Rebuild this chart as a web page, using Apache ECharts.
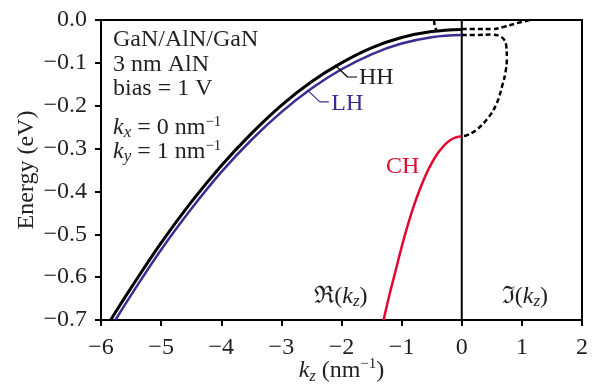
<!DOCTYPE html>
<html><head><meta charset="utf-8">
<script src="https://cdn.jsdelivr.net/npm/echarts@6/dist/echarts.min.js"></script>
<style>html,body{margin:0;padding:0;background:#fff}#c{width:609px;height:386px}</style>
</head><body><div id="c"></div>
<script>
// ---- data ----
const xMin = -6, xMax = 2, xStep = 1;
const yMin = -0.7, yMax = 0, yStep = 0.1;

// HH band (real kz)
const hhK = [-5.84, -5.5, -5.0, -4.5, -4.0, -3.5, -3.0, -2.5, -2.0, -1.5, -1.0, -0.5, 0];
const hhE = [-0.700, -0.625, -0.520, -0.425, -0.340, -0.265, -0.199, -0.144, -0.100, -0.065, -0.041, -0.027, -0.022];
// LH band (real kz)
const lhK = [-5.76, -5.5, -5.0, -4.5, -4.0, -3.5, -3.0, -2.5, -2.0, -1.5, -1.0, -0.5, 0];
const lhE = [-0.700, -0.642, -0.536, -0.441, -0.355, -0.280, -0.215, -0.160, -0.115, -0.080, -0.055, -0.040, -0.035];
// CH band (real kz)
const chK = [-1.30, -1.2, -1.1, -1.0, -0.9, -0.8, -0.7, -0.6, -0.5, -0.4, -0.3, -0.2, -0.1, 0];
const chE = [-0.700, -0.640, -0.585, -0.530, -0.480, -0.435, -0.396, -0.362, -0.334, -0.311, -0.294, -0.281, -0.274, -0.271];
// imaginary kz branches (dashed)
const imHhK = [0, 0.25, 0.5, 0.7, 0.9, 1.13];
const imHhE = [-0.021, -0.021, -0.021, -0.016, -0.008, 0.0];
const imLoopK = [0, 0.25, 0.5, 0.62, 0.70, 0.74, 0.75, 0.73, 0.68, 0.58, 0.44, 0.24, 0.08, 0];
const imLoopE = [-0.035, -0.035, -0.034, -0.037, -0.045, -0.060, -0.090, -0.120, -0.150, -0.195, -0.228, -0.257, -0.269, -0.271];
const sideK = [-0.46, -0.45, -0.42];
const sideE = [0.0, -0.012, -0.024];

const zip = (a, b) => a.map((v, i) => [v, b[i]]);

const FONT = "'Liberation Serif','Times New Roman',serif";
const TXT = '#231f20';
const BLUE = '#3d2b92';
const RED = '#e3062f';

const chart = echarts.init(document.getElementById('c'), null, {renderer: 'canvas'});

const fmtY = v => Math.abs(v) < 1e-9 ? '0.0' : '\u2212' + Math.abs(v).toFixed(1);
const fmtX = v => v < 0 ? '\u2212' + Math.abs(Math.round(v)) : String(Math.round(v));

const option = {
  animation: false,
  grid: {left: 101, right: 27, top: 20, bottom: 66, show: true, borderColor: '#000', borderWidth: 2,
         containLabel: false, outerBoundsMode: 'none'},
  xAxis: {
    type: 'value', min: xMin, max: xMax, interval: xStep,
    axisLine: {onZero: false, lineStyle: {color: '#000', width: 2}},
    axisTick: {length: 6, lineStyle: {color: '#000', width: 2}},
    axisLabel: {fontFamily: FONT, fontSize: 24, color: TXT, margin: 16, formatter: fmtX},
    splitLine: {show: false},
    name: '{i|k}{sub|z}{n| (nm}{sup|\u22121}{n|)}',
    nameLocation: 'middle', nameGap: 37, nameMoveOverlap: false,
    nameTextStyle: {
      fontFamily: FONT, fontSize: 24, color: TXT,
      rich: {
        i: {fontFamily: FONT, fontSize: 24, fontStyle: 'italic', color: TXT, lineHeight: 28},
        n: {fontFamily: FONT, fontSize: 24, color: TXT, lineHeight: 28},
        sub: {fontFamily: FONT, fontSize: 16, fontStyle: 'italic', color: TXT, lineHeight: 14, verticalAlign: 'bottom'},
        sup: {fontFamily: FONT, fontSize: 15, color: TXT, lineHeight: 15, verticalAlign: 'top'}
      }
    }
  },
  yAxis: {
    type: 'value', min: yMin, max: yMax, interval: yStep,
    axisLine: {onZero: false, lineStyle: {color: '#000', width: 2}},
    axisTick: {length: 6, lineStyle: {color: '#000', width: 2}},
    axisLabel: {fontFamily: FONT, fontSize: 24, color: TXT, margin: 14, formatter: fmtY},
    splitLine: {show: false},
    name: 'Energy (eV)', nameLocation: 'middle', nameGap: 62, nameMoveOverlap: false,
    nameTextStyle: {fontFamily: FONT, fontSize: 24, color: TXT}
  },
  series: [
    {type: 'line', data: [[0, yMin], [0, yMax]], symbol: 'none', silent: true,
     lineStyle: {color: '#000', width: 2}, z: 1},
    {type: 'line', name: 'imHH', data: zip(imHhK, imHhE), symbol: 'none', smooth: 0.4,
     lineStyle: {color: '#000', width: 2.5, type: [5, 3]}, z: 2},
    {type: 'line', name: 'imLoop', data: zip(imLoopK, imLoopE), symbol: 'none', smooth: 0.4,
     lineStyle: {color: '#000', width: 2.5, type: [5, 3]}, z: 2},
    {type: 'line', name: 'side', data: zip(sideK, sideE), symbol: 'none', smooth: 0.4,
     lineStyle: {color: '#000', width: 2.5, type: [5, 3]}, z: 2},
    {type: 'line', name: 'LH', data: zip(lhK, lhE), symbol: 'none', smooth: 0.4,
     lineStyle: {color: BLUE, width: 2.5}, z: 3},
    {type: 'line', name: 'HH', data: zip(hhK, hhE), symbol: 'none', smooth: 0.4,
     lineStyle: {color: '#000', width: 3}, z: 4},
    {type: 'line', name: 'CH', data: zip(chK, chE), symbol: 'none', smooth: 0.4,
     lineStyle: {color: RED, width: 2.5}, z: 4},
    // leaders
    {type: 'line', data: [[-2.11, -0.105], [-1.90, -0.133], [-1.74, -0.133]], symbol: 'none',
     lineStyle: {color: '#000', width: 1.2}, z: 5},
    {type: 'line', data: [[-2.57, -0.163], [-2.36, -0.191], [-2.21, -0.191]], symbol: 'none',
     lineStyle: {color: BLUE, width: 1.2}, z: 5}
  ]
};
chart.setOption(option);

const P = (x, y) => chart.convertToPixel({gridIndex: 0}, [x, y]);
const txt = (pos, text, opts) => ({
  type: 'text', x: pos[0], y: pos[1],
  style: Object.assign({text: text, fontFamily: FONT, fontSize: 24, fill: TXT,
    verticalAlign: 'middle', align: 'left'}, opts || {})
});

const richK = {
  i: {fontFamily: FONT, fontSize: 24, fontStyle: 'italic', fill: TXT, lineHeight: 26},
  n: {fontFamily: FONT, fontSize: 24, fill: TXT, lineHeight: 26},
  sub: {fontFamily: FONT, fontSize: 17, fontStyle: 'italic', fill: TXT, lineHeight: 13, verticalAlign: 'bottom'},
  sup: {fontFamily: FONT, fontSize: 15, fill: TXT, lineHeight: 17, verticalAlign: 'top'}
};

const graphics = [
  txt([113, 40], 'GaN/AlN/GaN'),
  txt([113, 64.5], '3 nm AlN'),
  txt([113, 89], 'bias = 1 V'),
  {type: 'text', x: 113, y: 128, style: {text: '{i|k}{sub|x}{n| = 0 nm}{sup|\u22121}', rich: richK, verticalAlign: 'middle', align: 'left'}},
  {type: 'text', x: 113, y: 152, style: {text: '{i|k}{sub|y}{n| = 1 nm}{sup|\u22121}', rich: richK, verticalAlign: 'middle', align: 'left'}},
  txt(P(-1.71, -0.135), 'HH'),
  txt(P(-2.17, -0.196), 'LH', {fill: BLUE}),
  txt(P(-1.26, -0.342), 'CH', {fill: RED}),
  {type: 'text', x: P(-2.01, -0.646)[0], y: P(-2.01, -0.646)[1],
   style: {text: '\u211C({i|k}{sub|z}{n|)}', rich: richK, fontFamily: FONT, fontSize: 24, fill: TXT, align: 'center', verticalAlign: 'middle'}},
  {type: 'text', x: P(1.05, -0.646)[0], y: P(1.05, -0.646)[1],
   style: {text: '\u2111({i|k}{sub|z}{n|)}', rich: richK, fontFamily: FONT, fontSize: 24, fill: TXT, align: 'center', verticalAlign: 'middle'}}
];
chart.setOption({graphic: graphics});
</script></body></html>
